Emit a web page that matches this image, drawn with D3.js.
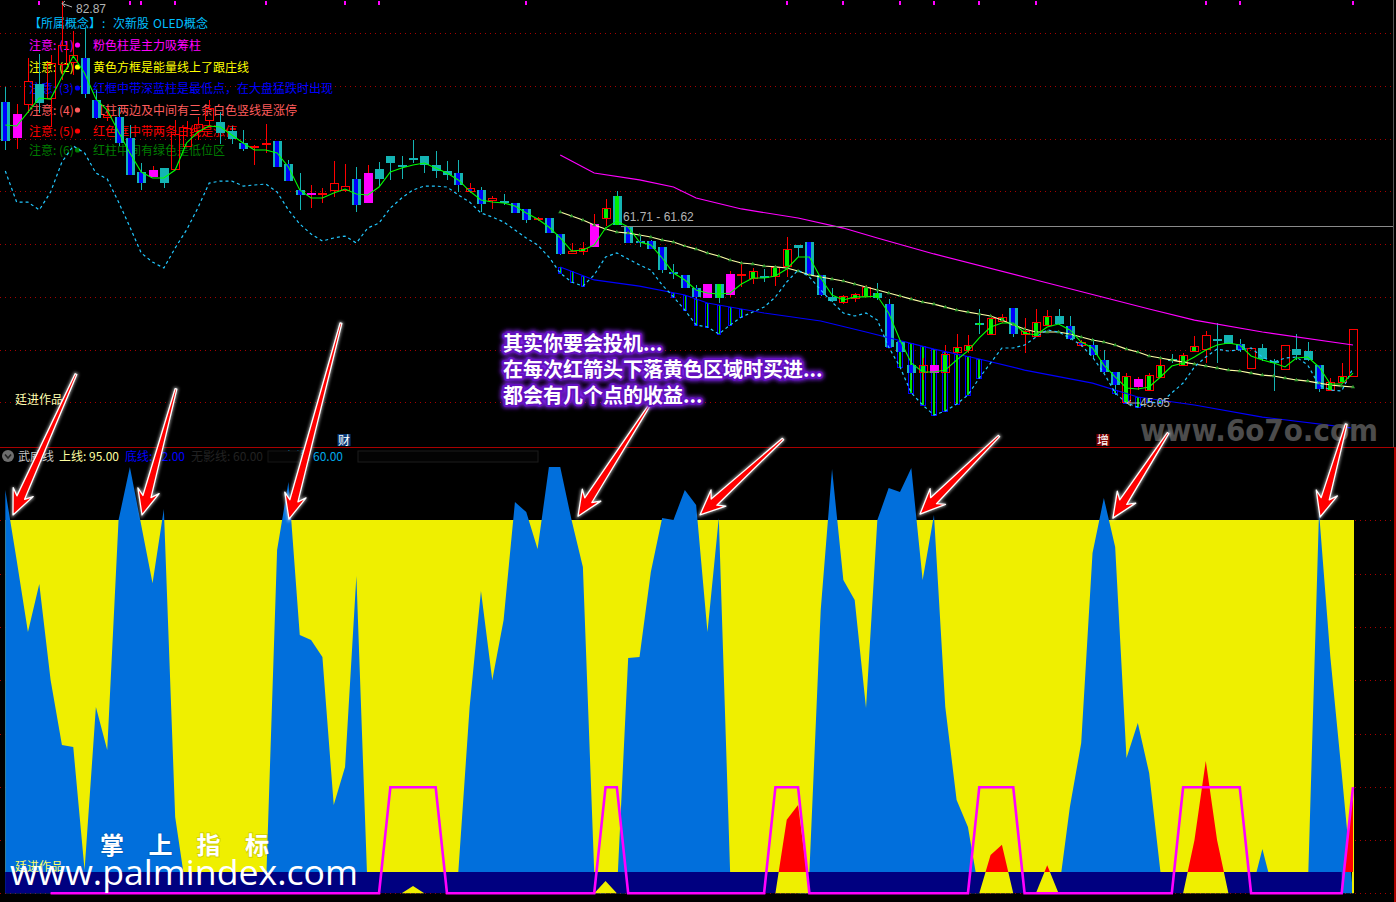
<!DOCTYPE html>
<html><head><meta charset="utf-8">
<script src="https://cdnjs.cloudflare.com/ajax/libs/d3/7.8.5/d3.min.js"></script>
<style>
html,body{margin:0;padding:0;background:#000;overflow:hidden}
svg{display:block}
text{font-family:"Noto Sans CJK SC","Liberation Sans",sans-serif}
.num{font-family:"Liberation Sans",sans-serif}
</style></head><body>
<div id="chart"></div>
<script>
// ---- price panel data ----
const highs=[74.69,73.09,77.41,77.78,77.69,82.76,79.94,80.22,74.41,72.81,72.81,71.12,67.56,67.28,67.09,71.59,71.50,71.88,73.47,72.34,71.03,70.66,69.25,71.22,69.62,67.84,66.62,65.50,65.22,67.75,67.47,67.19,67.37,67.65,68.22,68.22,69.72,68.22,68.69,67.75,67.84,65.68,65.31,64.47,64.65,63.81,63.25,62.50,62.40,60.90,60.06,60.15,62.78,64.18,64.93,61.56,60.81,60.34,59.68,58.09,57.06,56.12,56.21,56.21,57.43,58.18,57.71,57.62,57.90,60.62,59.87,60.15,57.06,55.84,55.18,55.37,56.12,56.30,54.80,50.77,50.02,49.27,48.61,50.49,51.52,51.43,53.87,53.30,53.40,53.96,53.03,53.87,53.77,53.87,53.21,50.96,51.05,50.02,47.96,47.86,47.49,47.86,49.36,49.64,49.74,51.33,51.80,52.55,51.43,51.05,50.21,50.58,49.18,50.49,51.52,50.77,48.61,47.39,48.80,51.99];
const lows=[68.78,68.87,72.25,72.25,70.94,75.35,75.82,73.66,71.69,71.50,69.16,66.44,65.03,66.25,65.22,66.90,69.06,69.72,71.03,69.34,69.34,68.69,67.37,68.50,67.19,65.87,63.15,63.34,63.81,64.37,64.84,62.96,63.81,65.31,65.97,66.06,67.56,66.62,66.15,65.97,64.84,64.75,62.96,63.25,63.62,62.87,61.93,62.12,61.0,58.93,59.03,58.93,59.68,61.65,61.74,60.06,59.68,59.49,57.24,56.68,55.84,54.71,54.90,54.43,55.0,55.93,56.21,56.40,56.02,56.87,58.74,57.06,55.09,54.52,54.33,54.52,55.0,54.71,50.30,49.83,47.21,47.21,47.86,47.86,49.55,49.74,51.52,51.43,52.55,51.24,49.74,51.24,52.27,52.37,50.96,50.30,49.27,47.86,45.80,45.05,46.27,46.17,47.39,48.80,48.52,49.83,48.80,48.80,50.58,49.83,48.24,48.99,46.17,48.14,49.08,48.99,46.08,46.17,46.92,47.49];
const opens=[73.28,69.91,73.00,74.97,73.56,76.75,76.94,77.41,73.47,71.78,71.88,69.91,66.72,66.25,67.09,66.90,69.06,70.47,71.50,71.41,70.56,69.44,69.06,69.34,69.62,67.47,65.03,64.65,64.65,64.93,64.93,66.06,63.81,67.00,68.22,67.37,68.03,68.22,67.37,66.81,66.62,64.84,65.03,64.00,64.00,63.81,63.25,62.36,62.40,60.90,59.03,59.21,59.68,62.31,64.47,61.56,60.24,60.24,59.68,57.34,57.06,55.84,54.90,56.21,55.18,57.06,56.68,56.96,56.87,57.81,59.87,60.15,57.06,55.0,54.43,54.80,55.0,55.37,54.33,50.77,48.61,47.86,47.86,47.86,49.74,49.93,52.55,51.43,52.65,53.96,51.43,51.24,52.27,53.21,52.27,50.40,50.49,49.08,47.96,45.05,46.55,46.17,47.39,49.18,48.52,49.83,50.02,51.05,51.43,50.58,48.24,50.21,48.99,48.14,50.11,49.93,48.61,46.17,46.92,47.49];
const closes=[69.62,72.16,75.25,73.19,76.94,78.63,77.69,74.03,71.78,72.06,69.44,66.44,65.68,66.90,65.68,70.28,70.84,71.22,72.72,70.37,69.81,68.87,69.16,69.44,67.19,65.87,64.56,64.75,64.75,65.68,65.40,63.62,66.62,66.06,67.56,67.33,67.84,67.37,66.81,66.44,65.50,65.22,63.72,64.28,63.95,62.87,62.21,62.40,61.0,59.03,59.31,59.59,61.84,63.34,61.74,60.06,60.06,59.49,57.52,57.15,55.84,55.0,56.21,54.90,57.15,57.15,57.43,56.91,57.81,59.49,59.59,57.06,55.18,54.62,55.09,55.27,55.93,54.90,50.30,49.83,47.86,48.61,48.61,49.64,50.30,50.49,52.37,53.02,53.12,51.52,51.80,52.65,53.21,52.46,51.05,50.77,49.55,47.96,46.74,47.58,47.30,47.67,48.61,48.99,49.55,50.40,51.43,50.96,50.58,50.02,50.21,49.18,48.89,50.49,49.55,49.08,46.36,47.02,47.58,51.99];
const magentaBars=[1,13,27,32,52,62,64,82,100];
const blueCore=[0,7,8,10,11,12,21,24,25,26,31,40,41,42,45,46,48,49,55,56,57,58,59,60,61,71,72,78,79,80,89,94,95,96,97,98,109,116];
const greenCore=[51,53,54,63,66,68,69,74,75,76,77,81,83,84,85,86,87,88,90,91,92,99,101,102,103,104,105,117,118];
const maLine=[71.13,71.03,72.34,73.66,73.56,75.63,77.60,76.0,73.56,72.53,70.47,68.50,66.72,66.15,66.15,66.90,69.44,70.47,71.03,70.94,70.19,69.44,68.78,68.78,68.50,67.19,65.03,64.28,64.28,64.75,65.12,64.65,64.56,65.31,66.72,67.09,67.37,67.56,67.09,66.62,65.97,64.93,64.09,63.90,63.81,63.53,62.87,62.31,61.56,60.53,59.31,59.40,59.87,61.46,62.12,61.56,60.15,59.87,58.65,57.24,56.59,55.65,55.37,55.27,55.37,56.21,56.77,56.77,56.96,57.62,58.74,58.74,56.77,55.18,54.71,55.0,55.0,55.09,53.49,50.96,48.80,47.96,47.96,48.14,49.08,49.93,51.15,52.18,52.55,52.55,51.62,51.43,52.18,52.46,51.90,50.77,50.21,48.61,47.49,46.46,46.36,46.55,47.49,48.52,48.80,49.36,50.02,50.49,50.68,50.49,49.46,49.08,48.80,48.43,49.27,49.36,48.43,46.83,46.83,47.86];
const dashLine=[66.81,63.90,63.90,63.15,64.84,67.65,69.16,68.50,66.62,66.06,63.90,61.56,59.12,58.27,57.71,59.59,61.28,63.34,65.68,65.87,65.87,65.40,65.50,65.59,64.84,63.15,61.84,60.90,60.24,60.53,60.71,60.06,61.46,61.93,63.34,64.28,65.03,65.40,65.40,65.31,64.56,63.90,62.87,62.50,62.03,61.28,60.53,59.87,58.74,57.24,56.40,56.02,57.06,58.74,59.12,58.56,58.0,57.52,56.12,55.0,53.77,52.37,52.18,51.52,52.37,53.11,53.58,54.05,55.0,56.40,57.52,56.87,55.65,54.52,53.49,53.21,53.49,52.83,50.30,48.43,46.0,44.86,43.92,44.30,44.95,45.80,47.39,48.80,50.21,50.21,50.49,51.24,51.90,51.71,51.15,50.49,49.36,47.86,46.0,45.05,44.67,45.14,45.05,46.0,46.92,48.43,49.36,50.11,49.93,50.02,50.21,49.36,48.89,49.27,49.36,48.61,46.74,46.27,46.17,48.33];
const paleIndex=d3.range(49,120);
const paleLine=[62.96,62.59,62.21,61.74,61.37,61.09,60.99,60.81,60.62,60.34,60.15,59.78,59.49,59.12,58.84,58.46,58.18,58.09,57.90,57.81,57.71,57.43,57.06,56.87,56.68,56.49,56.21,55.93,55.65,55.37,55.09,54.80,54.52,54.33,54.05,53.77,53.58,53.40,53.21,52.83,52.37,51.99,51.71,51.71,51.71,51.52,51.24,50.96,50.77,50.49,50.11,49.83,49.46,49.27,49.08,48.89,48.71,48.52,48.33,48.14,48.05,47.86,47.67,47.58,47.39,47.21,47.11,46.92,46.74,46.64,46.55];
const upperBandIdx=[49,52,56,59,61,65,70,74,77,82,91,101,105,111,119];
const upperBand=[68.31,66.62,65.97,65.31,64.28,63.25,62.40,61.46,60.53,59.03,56.59,53.87,52.83,51.71,50.49];
const lowerBandIdx=[49,52,56,60,62,67,72,76,82,86,90,96,100,105,111,119];
const lowerBand=[57.81,56.59,56.02,55.18,54.43,53.49,52.74,51.71,50.11,49.18,48.14,46.92,45.61,44.86,43.73,42.70];
const priceGrid=[79.75,74.78,69.81,64.93,59.96,54.99,50.02,45.14];
const signalMarks=[3,11,12,15,23,30,33,46,69,74,79,82,86,91,106,109,119];
const legendRows=[
 {tag:"注意: (1)",text:"粉色柱是主力吸筹柱"},
 {tag:"注意: (2)",text:"黄色方框是能量线上了跟庄线"},
 {tag:"注意: (3)",text:"红框中带深蓝柱是最低点，在大盘猛跌时出现"},
 {tag:"注意: (4)",text:"红柱两边及中间有三条白色竖线是涨停"},
 {tag:"注意: (5)",text:"红色框中带两条白线是涨停"},
 {tag:"注意: (6)",text:"红柱中间有绿色是低位区"}];
// ---- indicator panel data ----
const bluePower=[102.07,85.55,68.57,79.89,57.26,41.93,41.46,12.45,50.89,40.75,95,107.5,93.8,80.1,97.6,24.95,7,7,7,7,7,7,7,7,87.9,103.95,67.87,66.69,62.68,27.77,36.74,81.78,7,7,7,7,7,7,7,7,12,50.89,78.24,57.26,71.4,99.23,96.87,88.15,107.48,107.48,95,83.9,12,7,7,62.44,62.68,82.72,95.45,95,102.07,98.52,68.57,95.45,12,7,7,7,7,7,7,12,73.76,107,80.84,76.12,50.65,95,102.53,101.59,107.24,80.84,96.16,50.89,28.96,22.6,7,7,7,7,7,7,7,7,27.31,42.4,87.2,100.17,88.62,38.86,47.11,35.33,12,7,7,7,7,7,7,7,7,17.41,7,7,7,7,96.87,62.68,35.33,7];
const pulseIdx=[36,53,69,70,87,88,92,105,106,107,119];
const pulseVal=[8.7,9.9,24.3,27.8,16,18.4,13.6,19.5,38.2,19.5,32];
const gateHighRanges=[[34,38],[53,54],[68,70],[86,89],[104,109],[119,119]];
const gateStart=4, gateLow=7, gateHigh=32;
const upperLine=95, bottomLine=12, panelFloor=7;
const panelGrid=[95,82.3,69.8,57.3,44.6,32.1,19.6,7];
const arrowTipIdx=[0.68,12.07,25.05,50.57,61.34,80.77,97.8,116.09];
const arrowTipVal=[96.2,96.2,95.2,95.9,96.2,96.4,95.45,95.7];
const arrowTailIdx=[6.24,15.07,29.64,56.84,68.67,87.74,102.67,118.4];
const arrowTailVal=[129.4,125.9,141.4,121.9,114.1,114.8,115.5,117.6];
const noteLines=["其实你要会投机...","在每次红箭头下落黄色区域时买进...","都会有几个点的收益..."];

// ---- scales ----
const W=1396,H=902;
const x=d3.scaleLinear().domain([0,119]).range([5.3,1353]);
const yP=d3.scaleLinear().domain([82.85,45.05]).range([0,403]);
const yI=d3.scaleLinear().domain([upperLine,bottomLine]).range([520,872]);
const svg=d3.select("#chart").append("svg").attr("width",W).attr("height",H).style("background","#000");

// filters
const defs=svg.append("defs");
const f=defs.append("filter").attr("id","glow").attr("x","-20%").attr("y","-30%").attr("width","140%").attr("height","160%");
f.append("feGaussianBlur").attr("stdDeviation",2.2);
const s=defs.append("filter").attr("id","soft").attr("x","-20%").attr("y","-20%").attr("width","140%").attr("height","140%");
s.append("feGaussianBlur").attr("stdDeviation",1.6);
defs.append("clipPath").attr("id","aboveBase").append("rect").attr("x",0).attr("y",0).attr("width",W).attr("height",yI(bottomLine));
defs.append("clipPath").attr("id","belowBase").append("rect").attr("x",0).attr("y",yI(bottomLine)).attr("width",x(118)-1).attr("height",H-yI(bottomLine));

// grids
const dot="1 4";
svg.append("g").selectAll("line").data(priceGrid).join("line")
 .attr("x1",0).attr("x2",1393).attr("y1",d=>Math.round(yP(d))+.5).attr("y2",d=>Math.round(yP(d))+.5)
 .attr("stroke","#a80000").attr("stroke-dasharray",dot);
svg.append("g").selectAll("line").data(panelGrid).join("line")
 .attr("x1",0).attr("x2",1393).attr("y1",d=>Math.round(yI(d))+.5).attr("y2",d=>Math.round(yI(d))+.5)
 .attr("stroke","#a80000").attr("stroke-dasharray",dot);
// frame
svg.append("line").attr("x1",0).attr("x2",W).attr("y1",447.5).attr("y2",447.5).attr("stroke","#a80000");
svg.append("line").attr("x1",1393.5).attr("x2",1393.5).attr("y1",0).attr("y2",447).attr("stroke","#555");
svg.append("line").attr("x1",1395).attr("x2",1395).attr("y1",447).attr("y2",H).attr("stroke","#b00000").attr("stroke-width",2);

// signal ticks on top
svg.append("g").selectAll("rect").data(signalMarks).join("rect")
 .attr("x",d=>Math.round(x(d))-1).attr("y",1).attr("width",2).attr("height",4).attr("fill","#ff00ff");

// legend under the candles
const legendColors=["#ff00ff","#ffff00","#0000ff","#ff5c5c","#ff0000","#007c00"];
const legendY=[45,67,88,110,131,150];
const lg=svg.append("g").style("font-size","12px");
[["【所属概念】",29],[":",102],["次新股",113],["OLED",153],["概念",184]].forEach(t=>{
 lg.append("text").attr("x",t[1]).attr("y",22).attr("dominant-baseline","central").attr("fill","#00bfff").text(t[0]);
});
legendRows.forEach((r,i)=>{
 lg.append("text").attr("x",29).attr("y",legendY[i]-1).attr("dominant-baseline","central").attr("fill",legendColors[i]).text(r.tag);
 lg.append("circle").attr("cx",77.5).attr("cy",legendY[i]).attr("r",2.6).attr("fill",legendColors[i]);
 lg.append("text").attr("x",93).attr("y",legendY[i]-1).attr("dominant-baseline","central").attr("fill",legendColors[i]).text(r.text);
});

// lines helpers
const lineOf=(idx,val)=>d3.line().x((d,i)=>x(idx?idx[i]:i)).y(d=>yP(d))(val);

// band bars between lower band and dashed line
const lowAt=d3.scaleLinear().domain(lowerBandIdx).range(lowerBand);
const barIdx=d3.range(49,120).filter(i=>yP(dashLine[i])-yP(lowAt(i))>2.5);
const bars=svg.append("g").attr("shape-rendering","crispEdges");
barIdx.forEach(i=>{
 const top=Math.round(yP(lowAt(i))),bot=Math.round(yP(dashLine[i])),cx=Math.round(x(i));
 const wide=i>=78;
 bars.append("rect").attr("x",cx-(wide?2.5:1.5)).attr("y",top).attr("width",wide?5:3).attr("height",bot-top).attr("fill","none").attr("stroke","#0000ff");
 bars.append("rect").attr("x",cx-(wide?1:0)).attr("y",top).attr("width",wide?2:1).attr("height",bot-top).attr("fill","#00e000");
});

// candles
const cyan="#14b4b4";
const g=svg.append("g").attr("shape-rendering","crispEdges");
const wick=(cx,a,b,col)=>{if(b>a)g.append("rect").attr("x",cx-.5).attr("y",a).attr("width",1).attr("height",b-a).attr("fill",col);};
d3.range(120).forEach(i=>{
 const cx=Math.round(x(i)),up=closes[i]>opens[i],mag=magentaBars.includes(i);
 const top=Math.round(yP(Math.max(opens[i],closes[i]))),bot=Math.round(yP(Math.min(opens[i],closes[i])));
 const h=Math.max(bot-top,2);
 const col=up?"#ff0000":cyan;
 const hi=Math.round(yP(highs[i])),lo=Math.round(yP(lows[i]));
 wick(cx,hi,top,col);wick(cx,bot,lo,col);
 if(mag){g.append("rect").attr("x",cx-4.5).attr("y",top).attr("width",9).attr("height",h).attr("fill","#ff00ff");return;}
 if(up&&bot-top>2){g.append("rect").attr("x",cx-4).attr("y",top+.5).attr("width",8).attr("height",h-1).attr("fill","none").attr("stroke","#ff0000");}
 else g.append("rect").attr("x",cx-4.5).attr("y",top).attr("width",9).attr("height",h).attr("fill",col);
 if(blueCore.includes(i))g.append("rect").attr("x",cx-2).attr("y",top+(up?1:0)).attr("width",4).attr("height",Math.max(h-(up?2:0),1)).attr("fill","#0000ff");
 if(greenCore.includes(i))g.append("rect").attr("x",cx-2).attr("y",top+(up?1:0)).attr("width",4).attr("height",Math.max(h-(up?2:0),1)).attr("fill","#00f000");
});

// overlay lines
svg.append("path").attr("d",lineOf(upperBandIdx,upperBand)).attr("fill","none").attr("stroke","#ff00ff").attr("stroke-width",1.2);
svg.append("path").attr("d",lineOf(lowerBandIdx,lowerBand)).attr("fill","none").attr("stroke","#0000ff").attr("stroke-width",1.2);
svg.append("path").attr("d",lineOf(paleIndex,paleLine)).attr("fill","none").attr("stroke","#ffffa8").attr("stroke-width",1.2);
svg.append("g").selectAll("path").data(paleLine).join("path")
 .attr("d",d3.symbol(d3.symbolTriangle,7)).attr("transform",(d,i)=>`translate(${x(paleIndex[i])},${yP(d)})`).attr("fill","#2f9a2f");
svg.append("path").attr("d",lineOf(null,dashLine)).attr("fill","none").attr("stroke","#22c8ff").attr("stroke-width",1.2).attr("stroke-dasharray","3 3");
svg.append("path").attr("d",lineOf(null,maLine)).attr("fill","none").attr("stroke","#00ff00").attr("stroke-width",1.1);

// price labels
const refY=226.5;
svg.append("line").attr("x1",621).attr("x2",1393).attr("y1",refY).attr("y2",refY).attr("stroke","#8a8a8a");
const num=svg.append("g").style("font-size","12px").attr("fill","#b4b4b4");
num.append("text").attr("class","num").attr("x",623).attr("y",221).text("61.71 - 61.62");
num.append("text").attr("class","num").attr("x",76).attr("y",12.5).text("82.87");
num.append("text").attr("class","num").attr("x",1140).attr("y",407).text("45.05");
svg.append("path").attr("d","M62 3.5 L72 7 M62 3.5 L65 1 M62 3.5 L65 7").attr("stroke","#b4b4b4").attr("fill","none");
svg.append("path").attr("d","M1127 403 L1140 403 M1127 403 L1131 400 M1127 403 L1131 406").attr("stroke","#b4b4b4").attr("fill","none");

// upper left credit
svg.append("text").attr("x",15).attr("y",398).attr("dominant-baseline","central").attr("font-size",12).attr("fill","#ffffb0").text("廷进作品");

// tags
[["财",344,"#0a3a78"],["增",1103,"#7a0000"]].forEach(t=>{
 svg.append("rect").attr("x",t[1]-6.5).attr("y",434).attr("width",13).attr("height",12).attr("fill",t[2]);
 svg.append("text").attr("x",t[1]).attr("y",439.5).attr("text-anchor","middle").attr("dominant-baseline","central").attr("font-size",12).attr("fill","#fff").text(t[0]);
});

// watermark upper
svg.append("text").attr("x",1140).attr("y",441).attr("font-size",31).attr("font-weight",700)
 .style("font-family","'DejaVu Sans'").attr("fill","#4c4c4c").attr("textLength",238).attr("lengthAdjust","spacingAndGlyphs").text("www.6o7o.com");

// indicator header
svg.append("circle").attr("cx",8).attr("cy",456).attr("r",6).attr("fill","#6e6e6e");
svg.append("path").attr("d","M5 454.5 L8 458 L11 454.5").attr("stroke","#222").attr("stroke-width",1.6).attr("fill","none");
const hd=svg.append("g").style("font-size","12px");
[["武威线",18,"#c8c8c8"],["上线: 95.00",59,"#ffffa0"],["底线: 12.00",125,"#0000ff"],["无影线: 60.00",191,"#222222"],["中线: 60.00",283,"#00a8e8"]].forEach(t=>{
 hd.append("text").attr("x",t[1]).attr("y",455).attr("dominant-baseline","central").attr("fill",t[2]).text(t[0]);
});
svg.append("rect").attr("x",358).attr("y",451).attr("width",180).attr("height",11).attr("fill","#030303").attr("stroke","#1c1c1c");
svg.append("rect").attr("x",268).attr("y",451).attr("width",33).attr("height",11).attr("fill","#030303").attr("stroke","#161616");

// indicator panel
const yellow="#efef00",blue="#016fdc",navy="#000080";
svg.append("rect").attr("x",x(0)).attr("y",yI(upperLine)).attr("width",1354-x(0)).attr("height",yI(bottomLine)-yI(upperLine)).attr("fill",yellow);
svg.append("path").attr("d",d3.area().x((d,i)=>x(i)).y0(yI(panelFloor)).y1(d=>yI(d))(bluePower)).attr("fill",blue);
svg.append("rect").attr("x",x(0)).attr("y",yI(bottomLine)).attr("width",x(118)-x(0)).attr("height",yI(panelFloor)-yI(bottomLine)).attr("fill",navy);
svg.append("rect").attr("x",1352).attr("y",yI(bottomLine)).attr("width",2).attr("height",yI(panelFloor)-yI(bottomLine)).attr("fill",yellow);
const pulse=d3.range(120).map(i=>{const k=pulseIdx.indexOf(i);return k<0?panelFloor:pulseVal[k];});
const pulseArea=d3.area().x((d,i)=>x(i)).y0(yI(panelFloor)).y1(d=>yI(d))(pulse);
svg.append("path").attr("d",pulseArea).attr("fill","#ff0000").attr("clip-path","url(#aboveBase)");
svg.append("path").attr("d",pulseArea).attr("fill",yellow).attr("clip-path","url(#belowBase)");
const gate=d3.range(gateStart,120).map(i=>({i,v:gateHighRanges.some(r=>i>=r[0]&&i<=r[1])?gateHigh:gateLow}));
svg.append("path").attr("d",d3.line().x(d=>x(d.i)).y(d=>yI(d.v))(gate)).attr("fill","none").attr("stroke","#ff00ff").attr("stroke-width",2.6);

// bottom credits
svg.append("text").attr("x",15).attr("y",865).attr("dominant-baseline","central").attr("font-size",12).attr("fill","#ffff66").text("廷进作品");
const brand=svg.append("g");
["掌","上","指","标"].forEach((c,i)=>{
 brand.append("text").attr("x",[100,148.5,196.5,245][i]).attr("y",854).attr("font-size",24).attr("font-weight",700).attr("fill","#fff")
  .style("paint-order","stroke").attr("stroke","rgba(0,0,0,.12)").attr("stroke-width",2).text(c);
});
brand.append("text").attr("x",10).attr("y",884.5).attr("font-size",35).style("font-family","'Open Sans'").attr("fill","#fff")
 .attr("textLength",348).attr("lengthAdjust","spacingAndGlyphs").text("www.palmindex.com");

// arrows
const arrowPts=(x1,y1,x2,y2)=>{
 const L=Math.hypot(x2-x1,y2-y1),ux=(x2-x1)/L,uy=(y2-y1)/L,nx=-uy,ny=ux;
 const P=(t,w)=>[x1+ux*t+nx*w,y1+uy*t+ny*w];
 return [P(0,-.9),P(L-19,-4.2),P(L-25,-11),P(L,0),P(L-25,11),P(L-19,4.2),P(0,.9)];
};
arrowTipIdx.forEach((_,i)=>{
 const pts=arrowPts(x(arrowTailIdx[i]),yI(arrowTailVal[i]),x(arrowTipIdx[i]),yI(arrowTipVal[i]));
 const pd=d3.line()(pts)+"Z";
 svg.append("path").attr("d",pd).attr("fill","#000").attr("stroke","rgba(255,255,255,.55)").attr("stroke-width",3).attr("filter","url(#soft)");
 svg.append("path").attr("d",pd).attr("fill","#ff0000").attr("stroke","#fff").attr("stroke-width",1.3).attr("stroke-linejoin","round");
});

// note
const noteY=[342,368,394];
noteLines.forEach((t,i)=>{
 svg.append("text").attr("x",503).attr("y",noteY[i]).attr("dominant-baseline","central").attr("font-size",20).attr("font-weight",700)
  .attr("fill","none").attr("stroke","#7a20e0").attr("stroke-width",6).attr("stroke-linejoin","round").attr("filter","url(#glow)").text(t);
 svg.append("text").attr("x",503).attr("y",noteY[i]).attr("dominant-baseline","central").attr("font-size",20).attr("font-weight",700)
  .attr("fill","#fff").attr("stroke","#6410c0").attr("stroke-width",4).attr("stroke-linejoin","round").style("paint-order","stroke").text(t);
});
</script>
</body></html>
